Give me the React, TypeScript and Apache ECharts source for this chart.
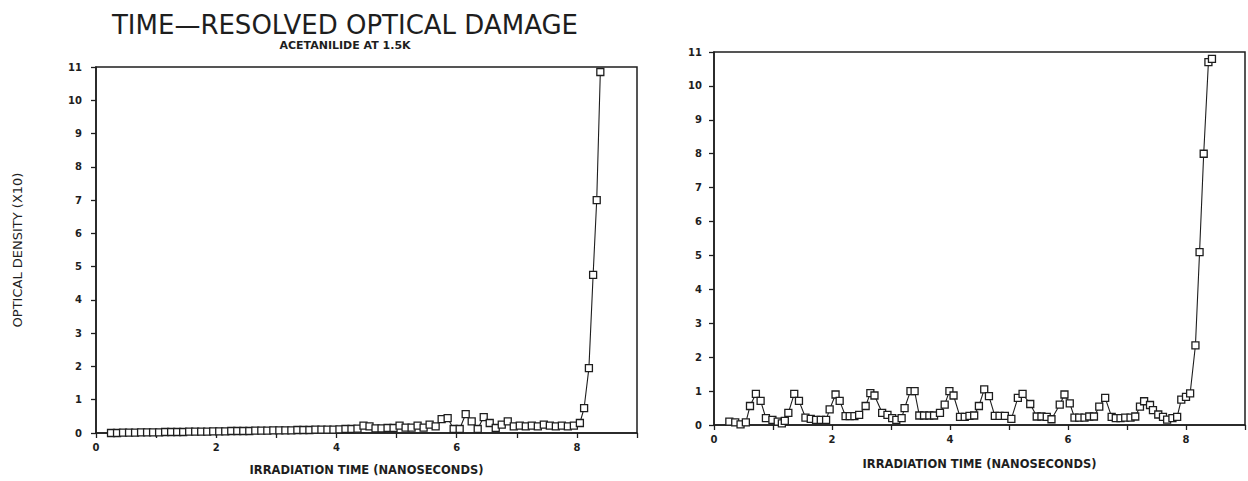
import React, { useEffect, useRef } from "react";
import * as echarts from "echarts";

const titleText = "TIME—RESOLVED OPTICAL DAMAGE";
const subtitleText = "ACETANILIDE AT 1.5K";
const xAxisTitle = "IRRADIATION TIME (NANOSECONDS)";
const yAxisTitle = "OPTICAL DENSITY (X10)";

const leftTime = [
  0.25, 0.35, 0.45, 0.55, 0.65, 0.75, 0.85, 0.95, 1.05, 1.15, 1.25, 1.35, 1.45, 1.55, 1.65, 1.75, 1.85, 1.95,
  2.05, 2.15, 2.25, 2.35, 2.45, 2.55, 2.65, 2.75, 2.85, 2.95, 3.05, 3.15, 3.25, 3.35, 3.45, 3.55, 3.65, 3.75, 3.85, 3.95,
  4.05, 4.15, 4.25, 4.35, 4.45, 4.55, 4.65, 4.75, 4.85, 4.95,
  5.05, 5.15, 5.25, 5.35, 5.45, 5.55, 5.65, 5.75, 5.85, 5.95,
  6.05, 6.15, 6.25, 6.35, 6.45, 6.55, 6.65, 6.75, 6.85, 6.95,
  7.05, 7.15, 7.25, 7.35, 7.45, 7.55, 7.65, 7.75, 7.85, 7.95,
  8.05, 8.12, 8.2, 8.27, 8.33, 8.39,
];
const leftDensity = [
  0.0, 0.0, 0.01, 0.01, 0.01, 0.02, 0.02, 0.02, 0.02, 0.03, 0.03, 0.03, 0.03, 0.04, 0.04, 0.04, 0.04, 0.05,
  0.05, 0.05, 0.06, 0.06, 0.06, 0.06, 0.07, 0.07, 0.07, 0.08, 0.08, 0.08, 0.08, 0.09, 0.09, 0.09, 0.1, 0.1, 0.1, 0.1,
  0.11, 0.12, 0.12, 0.13, 0.22, 0.2, 0.14, 0.14, 0.15, 0.15,
  0.22, 0.16, 0.16, 0.22, 0.16, 0.25, 0.2, 0.42, 0.45, 0.12,
  0.12, 0.57, 0.35, 0.12, 0.48, 0.3, 0.15, 0.25, 0.35, 0.2,
  0.22, 0.2, 0.22, 0.2, 0.25, 0.22, 0.2, 0.22, 0.2, 0.22,
  0.3, 0.75, 1.95, 4.75, 7.0, 10.85,
];

const rightTime = [
  0.26, 0.36, 0.45, 0.54, 0.61, 0.71, 0.79, 0.88, 0.99, 1.08, 1.15, 1.2, 1.26, 1.36, 1.44, 1.55, 1.64, 1.73, 1.81, 1.9,
  1.96, 2.06, 2.13, 2.23, 2.3, 2.38, 2.46, 2.57, 2.65, 2.72, 2.85, 2.94, 3.02, 3.09, 3.18, 3.23, 3.33, 3.4, 3.48, 3.56,
  3.65, 3.73, 3.83, 3.91, 3.99, 4.06, 4.17, 4.25, 4.33, 4.41, 4.49, 4.58, 4.66, 4.76, 4.84, 4.93, 5.04, 5.15, 5.23, 5.36,
  5.47, 5.55, 5.64, 5.72, 5.86, 5.94, 6.03, 6.11, 6.19, 6.28, 6.36, 6.44, 6.53, 6.63, 6.74, 6.81, 6.89, 6.97, 7.06, 7.14,
  7.22, 7.29, 7.39, 7.44, 7.53, 7.61, 7.68, 7.77, 7.85, 7.92, 8.0, 8.07, 8.16, 8.23, 8.3, 8.38, 8.44,
];
const rightDensity = [
  0.1, 0.08, 0.02, 0.08, 0.56, 0.92, 0.71, 0.2, 0.15, 0.1, 0.05, 0.12, 0.36, 0.92, 0.71, 0.22, 0.18, 0.15, 0.15, 0.15,
  0.46, 0.9, 0.71, 0.26, 0.26, 0.26, 0.3, 0.56, 0.94, 0.87, 0.36, 0.3, 0.2, 0.15, 0.2, 0.5, 1.0, 1.0, 0.28, 0.28,
  0.28, 0.28, 0.36, 0.6, 1.0, 0.87, 0.24, 0.24, 0.27, 0.28, 0.56, 1.05, 0.85, 0.27, 0.27, 0.27, 0.18, 0.8, 0.92, 0.62,
  0.25, 0.25, 0.24, 0.17, 0.6, 0.9, 0.64, 0.22, 0.22, 0.22, 0.25, 0.25, 0.54, 0.8, 0.24, 0.2, 0.2, 0.22, 0.22, 0.25,
  0.54, 0.7, 0.59, 0.44, 0.31, 0.24, 0.16, 0.2, 0.24, 0.75, 0.83, 0.93, 2.35, 5.1, 8.0, 10.7, 10.8,
];

const xTicks = { min: 0, max: 9, interval: 1 };
const yTicks = { min: 0, max: 11, interval: 1 };

const INK = "#1e1e1e";
const FONT = "DejaVu Sans";

function pairs(xs: number[], ys: number[]) {
  return xs.map((x, i) => [x, ys[i]]);
}

export default function App() {
  const ref = useRef<HTMLDivElement>(null);
  useEffect(() => {
    if (!ref.current) return;
    const chart = echarts.init(ref.current, undefined, { renderer: "svg" });
    const axisLabel = {
      color: INK,
      fontFamily: FONT,
      fontWeight: "bold" as const,
      fontSize: 10,
    };
    const mkX = (gridIndex: number, nameGap: number) => ({
      type: "value" as const,
      gridIndex,
      min: xTicks.min,
      max: xTicks.max,
      interval: xTicks.interval,
      splitLine: { show: false },
      axisLine: { lineStyle: { color: INK, width: 1.5 } },
      axisTick: { length: 5, lineStyle: { color: INK, width: 1.3 } },
      axisLabel: {
        ...axisLabel,
        margin: 9,
        formatter: (v: number) => (v % 2 === 0 ? String(v) : ""),
      },
      name: xAxisTitle,
      nameLocation: "middle" as const,
      nameGap,
      nameTextStyle: { color: INK, fontFamily: FONT, fontWeight: "bold" as const, fontSize: 11.5 },
    });
    const mkY = (gridIndex: number, margin: number, withName: boolean) => ({
      type: "value" as const,
      gridIndex,
      min: yTicks.min,
      max: yTicks.max,
      interval: yTicks.interval,
      splitLine: { show: false },
      axisLine: { show: true, lineStyle: { color: INK, width: 1.5 } },
      axisTick: { show: true, length: 5, lineStyle: { color: INK, width: 1.3 } },
      axisLabel: { ...axisLabel, margin },
      ...(withName
        ? {
            name: yAxisTitle,
            nameLocation: "middle" as const,
            nameGap: 72,
            nameRotate: 90,
            nameTextStyle: { color: INK, fontFamily: FONT, fontSize: 13 },
          }
        : {}),
    });
    const seriesStyle = {
      type: "line" as const,
      symbol: "rect",
      symbolSize: 7,
      showAllSymbol: true,
      lineStyle: { color: INK, width: 1.1 },
      itemStyle: { color: "#ffffff", borderColor: INK, borderWidth: 1.3 },
      z: 3,
    };
    chart.setOption({
      animation: false,
      backgroundColor: "#ffffff",
      title: [
        {
          text: titleText,
          left: 340,
          top: 7,
          textAlign: "center",
          textStyle: { color: INK, fontFamily: FONT, fontWeight: "normal", fontSize: 26 },
        },
        {
          text: subtitleText,
          left: 340,
          top: 35,
          textAlign: "center",
          textStyle: { color: INK, fontFamily: FONT, fontWeight: "bold", fontSize: 11 },
        },
      ],
      grid: [
        { left: 96, top: 67, width: 541, height: 369, show: true, borderColor: INK, borderWidth: 1.5, backgroundColor: "transparent" },
        { left: 714, top: 52, width: 541, height: 373, show: true, borderColor: INK, borderWidth: 1.5, backgroundColor: "transparent" },
      ],
      xAxis: [mkX(0, 31), mkX(1, 33)],
      yAxis: [mkY(0, 14, true), mkY(1, 12, false)],
      series: [
        { ...seriesStyle, xAxisIndex: 0, yAxisIndex: 0, data: pairs(leftTime, leftDensity) },
        { ...seriesStyle, xAxisIndex: 1, yAxisIndex: 1, data: pairs(rightTime, rightDensity) },
      ],
    });
    return () => chart.dispose();
  }, []);
  return (
    <div
      ref={ref}
      style={{ position: "absolute", left: 0, top: 0, width: 1248, height: 481 }}
    />
  );
}
